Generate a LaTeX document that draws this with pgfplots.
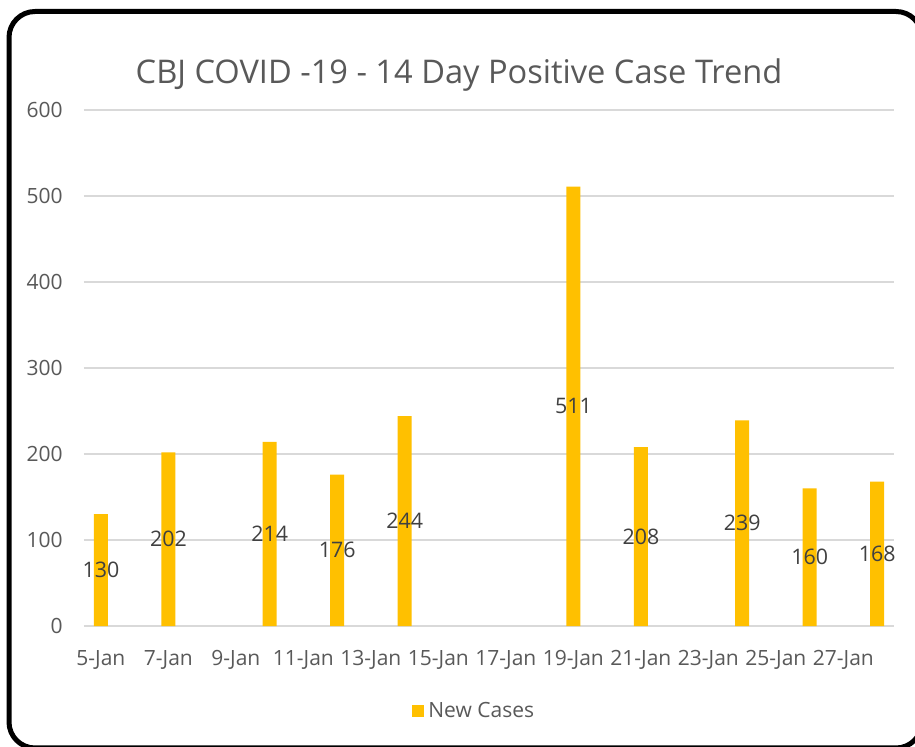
\documentclass[border=0pt]{standalone}
\usepackage{fontspec}
\setmainfont{Open Sans}
\usepackage{pgfplots}
\pgfplotsset{compat=1.18}
\definecolor{barc}{HTML}{FFC000}
\definecolor{txtc}{HTML}{595959}
\definecolor{lblc}{HTML}{404040}
\definecolor{gridc}{HTML}{D9D9D9}
\begin{document}
\begin{tikzpicture}
\path[use as bounding box, fill=white] (0bp,0bp) rectangle (457.5bp,373.5bp);
\begin{scope}
\clip (0bp,0bp) rectangle (457.5bp,373.5bp);
\draw[line width=2.5bp, rounded corners=13bp] (4.5bp,-0.5bp) rectangle (461bp,367.75bp);
\end{scope}
\node[text=txtc, font=\fontsize{16.3bp}{20bp}\selectfont, anchor=center] at (229.5bp,336bp) {CBJ COVID -19 - 14 Day Positive Case Trend};
\begin{axis}[
  at={(42bp,60.5bp)}, anchor=south west,
  scale only axis, width=405bp, height=258bp,
  xmin=4.5, xmax=28.5, ymin=0, ymax=600,
  ytick={0,100,...,600},
  xtick={5,7,...,27},
  xticklabels={5-Jan,7-Jan,9-Jan,11-Jan,13-Jan,15-Jan,17-Jan,19-Jan,21-Jan,23-Jan,25-Jan,27-Jan},
  /pgf/number format/assume math mode=true,
  axis line style={draw=none},
  major tick length=0pt,
  ymajorgrids, grid style={draw=gridc, line width=0.75bp},
  tick label style={text=txtc, font=\fontsize{10.5bp}{12bp}\selectfont},
  xticklabel style={anchor=base, inner sep=0pt, yshift=-19.5bp},
  yticklabel style={anchor=east, inner sep=0pt, xshift=-10.5bp},
  legend style={at={(0.483,-0.165)}, anchor=center, draw=none, fill=none,
    font=\fontsize{10.5bp}{12bp}\selectfont, text=txtc},
  legend image code/.code={\fill[barc] (0bp,-3bp) rectangle (6bp,3bp);},
  clip=false,
]
\addplot[ybar, bar width=7bp, fill=barc, draw=none] table[x=x, y=y] {
x y
5 130
7 202
10 214
12 176
14 244
19 511
21 208
24 239
26 160
28 168
};
\addlegendentry{New Cases}
\addplot[draw=none, mark=none, forget plot, nodes near coords, point meta=explicit,
  nodes near coords style={anchor=center, inner sep=0pt, text=lblc, font=\fontsize{10.7bp}{12bp}\selectfont}]
  table[x=x, y expr=\thisrow{y}/2, meta=y] {
x y
5 130
7 202
10 214
12 176
14 244
19 511
21 208
24 239
26 160
28 168
};
\end{axis}
\end{tikzpicture}
\end{document}
